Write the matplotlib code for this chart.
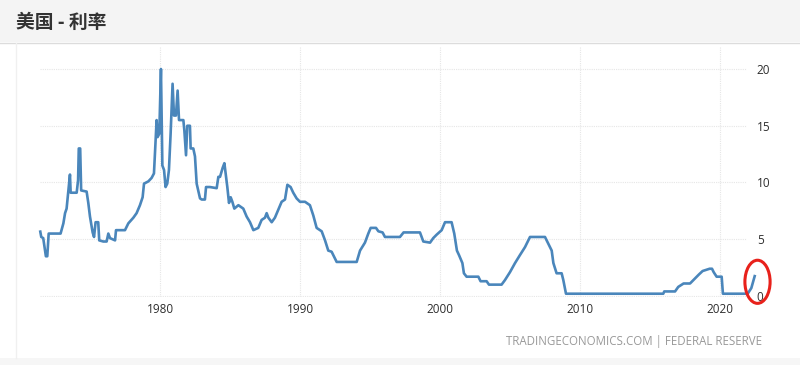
import matplotlib
matplotlib.use("Agg")
import matplotlib.pyplot as plt
from matplotlib.patches import Ellipse, Rectangle
from matplotlib.lines import Line2D

# US policy rate (decimal year, percent)
years = [
    1971.45, 1971.52, 1971.66, 1971.85, 1971.95, 1972.05, 1972.90, 1973.10, 1973.22,
    1973.33, 1973.57, 1973.62, 1974.05, 1974.15, 1974.20, 1974.30, 1974.37, 1974.76,
    1974.88, 1975.00, 1975.19, 1975.29, 1975.40, 1975.59, 1975.66, 1975.95, 1976.19,
    1976.31, 1976.43, 1976.79, 1976.86, 1977.50, 1977.74, 1978.10, 1978.33, 1978.57,
    1978.76, 1978.86, 1979.17, 1979.40, 1979.57, 1979.76, 1979.83, 1979.95, 1980.07,
    1980.17, 1980.29, 1980.40, 1980.52, 1980.64, 1980.76, 1980.90, 1981.00, 1981.14,
    1981.26, 1981.36, 1981.67, 1981.74, 1981.86, 1981.95, 1982.14, 1982.19, 1982.38,
    1982.50, 1982.62, 1982.86, 1982.98, 1983.21, 1983.29, 1983.57, 1984.05, 1984.17,
    1984.29, 1984.48, 1984.60, 1984.69, 1984.81, 1984.93, 1985.05, 1985.17, 1985.31,
    1985.60, 1985.95, 1986.19, 1986.43, 1986.67, 1987.02, 1987.26, 1987.50, 1987.62,
    1987.74, 1987.98, 1988.21, 1988.45, 1988.69, 1988.93, 1989.10, 1989.33, 1989.52,
    1989.76, 1990.00, 1990.36, 1990.71, 1990.95, 1991.19, 1991.55, 1991.79, 1992.02,
    1992.26, 1992.62, 1994.05, 1994.29, 1994.64, 1994.88, 1995.05, 1995.43, 1995.60,
    1995.90, 1996.07, 1997.14, 1997.40, 1998.57, 1998.81, 1999.29, 1999.52, 1999.76,
    2000.12, 2000.36, 2000.83, 2001.02, 2001.21, 2001.36, 2001.60, 2001.71, 2001.90,
    2002.74, 2002.90, 2003.33, 2003.50, 2004.40, 2004.64, 2005.00, 2005.36, 2005.71,
    2006.07, 2006.43, 2007.50, 2007.74, 2007.98, 2008.10, 2008.33, 2008.69, 2008.81,
    2009.00, 2015.95, 2016.02, 2016.79, 2017.02, 2017.40, 2017.86, 2018.10, 2018.33,
    2018.50, 2018.76, 2019.26, 2019.43, 2019.55, 2019.76, 2020.12, 2020.21, 2021.98,
    2022.24, 2022.48,
]
rates = [
    5.67, 5.2, 5.1, 3.5, 3.5, 5.5, 5.5, 6.4, 7.3,
    7.7, 10.7, 9.1, 9.1, 10.2, 13.0, 13.0, 9.3, 9.2,
    8.2, 7.0, 5.6, 5.2, 6.5, 6.5, 4.9, 4.8, 4.8,
    5.5, 5.1, 4.9, 5.8, 5.8, 6.4, 6.9, 7.3, 8.0,
    8.7, 9.9, 10.1, 10.4, 10.8, 15.5, 14.0, 14.3, 20.0,
    11.5, 11.1, 9.6, 9.9, 11.1, 14.3, 18.7, 15.9, 15.9,
    18.1, 15.5, 15.5, 14.6, 12.4, 15.0, 15.0, 13.0, 13.0,
    12.3, 9.9, 8.6, 8.5, 8.5, 9.6, 9.6, 9.5, 10.5,
    10.5, 11.3, 11.7, 10.8, 9.6, 8.2, 8.7, 8.3, 7.7,
    8.0, 7.7, 7.0, 6.5, 5.8, 6.0, 6.7, 6.9, 7.3,
    6.9, 6.5, 6.9, 7.6, 8.3, 8.5, 9.8, 9.6, 9.1,
    8.6, 8.3, 8.3, 8.0, 7.1, 6.0, 5.7, 4.9, 4.0,
    3.9, 3.0, 3.0, 4.0, 4.7, 5.5, 6.0, 6.0, 5.7,
    5.6, 5.2, 5.2, 5.6, 5.6, 4.8, 4.7, 5.1, 5.4,
    5.8, 6.5, 6.5, 5.5, 4.0, 3.6, 2.9, 2.0, 1.7,
    1.7, 1.3, 1.3, 1.0, 1.0, 1.4, 2.1, 2.9, 3.6,
    4.3, 5.2, 5.2, 4.6, 4.0, 2.9, 2.0, 2.0, 1.4,
    0.2, 0.2, 0.4, 0.4, 0.8, 1.1, 1.1, 1.4, 1.7,
    1.9, 2.2, 2.4, 2.4, 2.1, 1.7, 1.7, 0.2, 0.2,
    0.7, 1.75,
]
year_ticks = [1980, 1990, 2000, 2010, 2020]
rate_ticks = [0, 5, 10, 15, 20]

title = "美国 - 利率"
source = "TRADINGECONOMICS.COM | FEDERAL RESERVE"

W, H = 800, 365
fig = plt.figure(figsize=(W / 100, H / 100), dpi=100, facecolor="white")

# page chrome: grey header band, bottom strip, faint panel border
fig.patches.append(Rectangle((0, 1 - 42 / H), 1, 42 / H, transform=fig.transFigure,
                             facecolor="#f4f4f4", edgecolor="none", zorder=0))
fig.patches.append(Rectangle((0, 0), 1, 7 / H, transform=fig.transFigure,
                             facecolor="#f6f6f6", edgecolor="none", zorder=0))
fig.lines.append(Line2D([0, 1], [1 - 42.5 / H] * 2, transform=fig.transFigure,
                        color="#dcdcdc", lw=1))
fig.lines.append(Line2D([16 / W] * 2, [7 / H, 1 - 43 / H], transform=fig.transFigure,
                        color="#f0f0f0", lw=1))

fig.text(16 / W, 1 - 22 / H, title, fontsize=13.5, fontweight="bold", color="#333333",
         va="center", ha="left", family=["Noto Sans CJK SC", "DejaVu Sans"])

ax = fig.add_axes([40 / W, 1 - 297 / H, 707 / W, 250 / H])
ax.plot(years, rates, color="#4a86bb", lw=1.9, solid_joinstyle="round", clip_on=False, zorder=3)

ax.set_xlim(1971.43, 2021.93)
ax.set_ylim(-0.09, 21.94)
ax.set_xticks(year_ticks)
ax.set_yticks(rate_ticks)
ax.yaxis.tick_right()
ax.tick_params(length=0, labelsize=8.5, labelcolor="#2e2e2e")
ax.tick_params(axis="y", pad=7)
ax.tick_params(axis="x", pad=4)
for lab in ax.get_xticklabels() + ax.get_yticklabels():
    lab.set_family("Open Sans")
ax.grid(True, color="#e6e6e6", lw=0.8, ls=(0, (1, 1)))
for s in ax.spines.values():
    s.set_visible(False)

# red ring drawn round the latest reading
ring = Ellipse((years[-1] + 0.2, rates[-1] - 0.5), 1.8, 3.8, fill=False,
               edgecolor="#e8211b", lw=2.2, clip_on=False, zorder=4)
ax.add_patch(ring)

fig.text(762 / W, 1 - 341 / H, source, fontsize=8.3, color="#999999", ha="right",
         va="center", family=["Open Sans", "DejaVu Sans"])

fig.savefig("out.png", dpi=100, facecolor=fig.get_facecolor())
